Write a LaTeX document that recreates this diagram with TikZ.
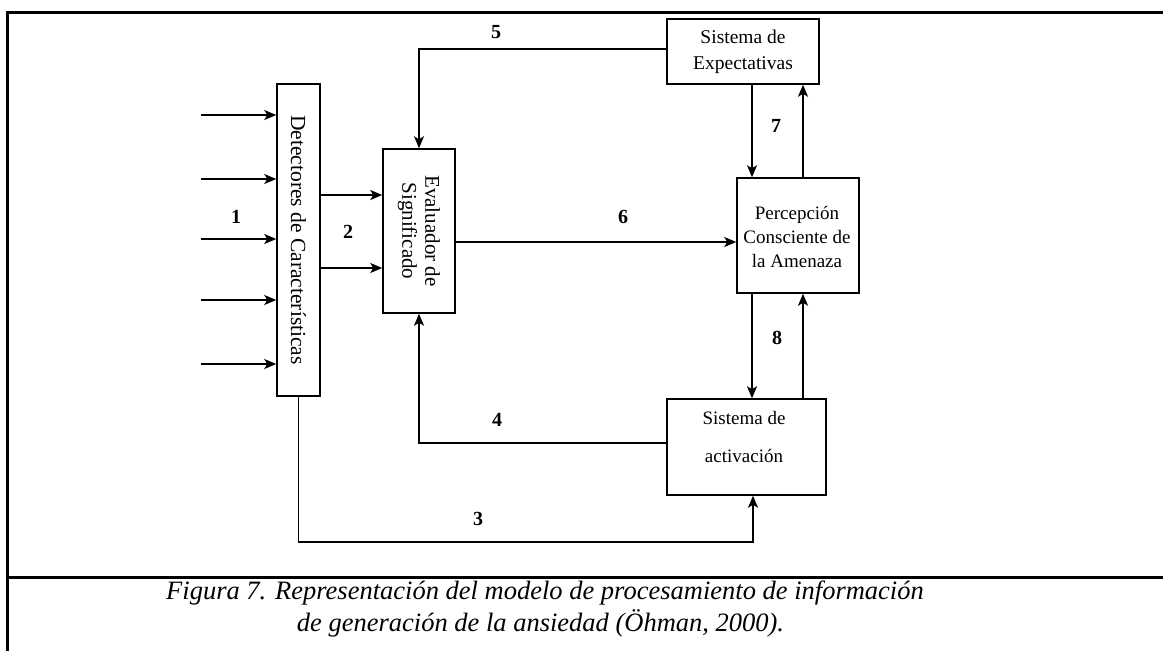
\documentclass[tikz,border=0pt]{standalone}
\usepackage{fontspec}
\setmainfont{Liberation Serif}
\usetikzlibrary{arrows.meta,calc}
\begin{document}
\begin{tikzpicture}[x=1pt,y=-1pt,
  box/.style={draw,line width=1.5pt,rectangle,inner sep=0pt},
  txt/.style={font=\fontsize{19}{24}\selectfont,align=center,inner sep=0pt},
  num/.style={font=\fontsize{20}{22}\selectfont\bfseries,inner sep=0pt},
  arr/.style={line width=1.5pt,-{Stealth[length=12pt,width=10pt,inset=3pt]}},
  frame/.style={line width=3pt},
  captxt/.style={font=\fontsize{26.5}{30}\selectfont\itshape,inner sep=0pt}]
\useasboundingbox (0,0) rectangle (1163,651);
% frame
\draw[frame] (7,651) -- (7,12) -- (1163,12);
\draw[frame] (7,577) -- (1163,577);
% boxes
\node[box,minimum width=43pt,minimum height=312pt] (det) at (298.5,240) {};
\node[txt,rotate=-90,font=\fontsize{21.5}{24}\selectfont] (dett) at (det.center) {Detectores de Características};
\node[box,minimum width=72pt,minimum height=164pt] (ev) at (419,231) {};
\node[txt,rotate=-90,font=\fontsize{21}{23}\selectfont] (evt) at (ev.center) {Evaluador de\\Significado};
\node[box,minimum width=152pt,minimum height=65pt] (exp) at (743,51.5) {};
\node[txt,font=\fontsize{19.5}{26}\selectfont] (expt) at (exp.center) {Sistema de\\Expectativas};
\node[box,minimum width=122pt,minimum height=115pt] (per) at (798,235.5) {};
\node[txt] (pert) at (797,237) {Percepción\\Consciente de\\la Amenaza};
\node[box,minimum width=159pt,minimum height=96pt] (act) at (746.5,447) {};
\node[txt,font=\fontsize{19}{38}\selectfont] (actt) at (744,437) {Sistema de\\activación};
% inputs
\foreach \y [count=\i] in {115,179,239,300,364}{
  \coordinate (in\i) at (201,\y);
  \draw[arr] (in\i) -- (in\i -| det.west);
}
% 2
\draw[arr] (det.east |- {(0,195)}) -- (ev.west |- {(0,195)});
\draw[arr] (det.east |- {(0,268)}) -- (ev.west |- {(0,268)});
% 5
\draw[arr] (exp.west |- {(0,49)}) -| (ev.north);
% 6
\draw[arr] (ev.east |- {(0,242)}) -- (per.west |- {(0,242)});
% 7
\draw[arr] (exp.south -| {(752,0)}) -- (per.north -| {(752,0)});
\draw[arr] (per.north -| {(803,0)}) -- (exp.south -| {(803,0)});
% 8
\draw[arr] (per.south -| {(752,0)}) -- (act.north -| {(752,0)});
\draw[arr] (act.north -| {(803,0)}) -- (per.south -| {(803,0)});
% 4
\draw[arr] (act.west |- {(0,443)}) -| (ev.south);
% 3
\coordinate (c3) at (753,542);
\draw[arr] (det.south) |- (c3) -- (act.south -| c3);
% numbers
\node[num] (n1) at (236,217) {1};
\node[num] (n2) at (348,232) {2};
\node[num] (n3) at (478,519) {3};
\node[num] (n4) at (497,420) {4};
\node[num] (n5) at (496,32) {5};
\node[num] (n6) at (623,217) {6};
\node[num] (n7) at (776,126) {7};
\node[num] (n8) at (777,338) {8};
% caption
\node[captxt] (cap1) at (545,593) {Figura 7. Representación del modelo de procesamiento de información};
\node[captxt] (cap2) at (540.5,623) {de generación de la ansiedad (Öhman, 2000).};
\end{tikzpicture}
\end{document}
